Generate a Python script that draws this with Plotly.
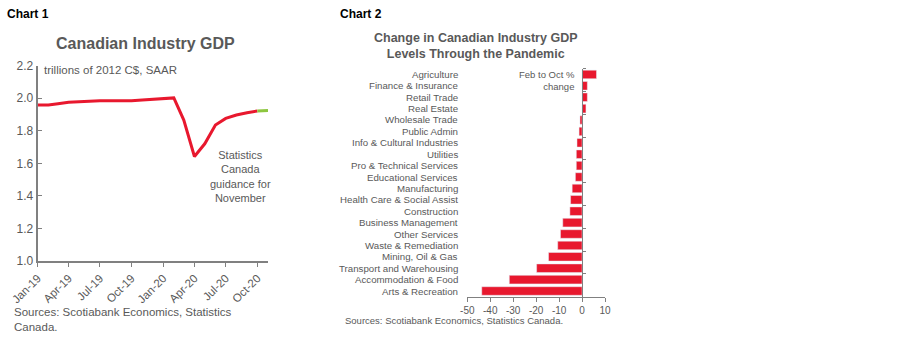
import plotly.graph_objects as go

# ---------------- Chart 1 data ----------------
months = ["2019-01-01", "2019-02-01", "2019-03-01", "2019-04-01", "2019-05-01", "2019-06-01",
          "2019-07-01", "2019-08-01", "2019-09-01", "2019-10-01", "2019-11-01", "2019-12-01",
          "2020-01-01", "2020-02-01", "2020-03-01", "2020-04-01", "2020-05-01", "2020-06-01",
          "2020-07-01", "2020-08-01", "2020-09-01", "2020-10-01"]
gdp = [1.958, 1.958, 1.966, 1.975, 1.978, 1.982, 1.985, 1.985, 1.985, 1.985, 1.990, 1.994,
       1.997, 2.002, 1.866, 1.642, 1.720, 1.835, 1.876, 1.897, 1.911, 1.922]
guide_months = ["2020-10-01", "2020-11-01"]
guide_gdp = [1.922, 1.925]

# ---------------- Chart 2 data ----------------
industries = ["Agriculture", "Finance & Insurance", "Retail Trade", "Real Estate",
              "Wholesale Trade", "Public Admin", "Info & Cultural Industries", "Utilities",
              "Pro & Technical Services", "Educational Services", "Manufacturing",
              "Health Care & Social Assist", "Construction", "Business Management",
              "Other Services", "Waste & Remediation", "Mining, Oil & Gas",
              "Transport and Warehousing", "Accommodation & Food", "Arts & Recreation"]
change = [6.3, 2.3, 2.3, 1.7, -0.9, -1.3, -2.2, -2.5, -2.5, -2.9, -4.3, -5.0, -5.3,
          -8.4, -9.4, -10.6, -14.6, -19.8, -31.7, -43.7]
x2_ticks = [-50, -40, -30, -20, -10, 0, 10]
x2_ticklabels = ["-50", "-40", "-30", "-20", "-10", "0", "10"]

RED = "#E8182E"
GREEN = "#8DC63F"
AX = "#808080"
TXT = "#595959"
FONT = "Liberation Sans, Arial, sans-serif"

W, H = 900, 340
def px(x):
    return x / W
def py(y):
    return (H - y) / H

fig = go.Figure()

fig.add_trace(go.Scatter(x=months, y=gdp, mode="lines", line=dict(color=RED, width=3),
                         xaxis="x", yaxis="y", showlegend=False, hoverinfo="skip"))
fig.add_trace(go.Scatter(x=guide_months, y=guide_gdp, mode="lines", line=dict(color=GREEN, width=3),
                         xaxis="x", yaxis="y", showlegend=False, hoverinfo="skip"))

fig.add_trace(go.Bar(y=industries, x=change, orientation="h", marker=dict(color=RED),
                     xaxis="x2", yaxis="y2", showlegend=False, hoverinfo="skip"))

x2_lo, x2_hi = -50, 10
d2 = [px(467.3), px(605)]
zero_pos = d2[0] + (0 - x2_lo) / (x2_hi - x2_lo) * (d2[1] - d2[0])

fig.update_layout(
    width=W, height=H, margin=dict(l=0, r=0, t=0, b=0, autoexpand=False),
    paper_bgcolor="white", plot_bgcolor="white",
    font=dict(family=FONT, color=TXT, size=12),
    bargap=0.25,
    xaxis=dict(domain=[px(37.7), px(268)], anchor="y", type="date", automargin=False,
               range=["2019-01-01", "2020-11-01"], tick0="2019-01-01", dtick="M3",
               tickformat="%b-%y", tickangle=-45, ticks="outside", ticklen=4,
               tickcolor=AX, showline=True, linecolor=AX, linewidth=2, showgrid=False,
               zeroline=False, tickfont=dict(size=11.5, color=TXT)),
    yaxis=dict(domain=[py(261), py(65.7)], anchor="x", range=[1.0, 2.2], dtick=0.2,
               automargin=False,
               tickformat=".1f", ticks="inside", ticklen=4, tickcolor=AX,
               showline=True, linecolor=AX, linewidth=2, showgrid=False, zeroline=False,
               tickfont=dict(size=12, color=TXT)),
    xaxis2=dict(domain=d2, anchor="y2", range=[x2_lo, x2_hi], automargin=False,
                tickmode="array", tickvals=x2_ticks, ticktext=x2_ticklabels,
                ticks="outside", ticklen=4, tickcolor=AX, showline=True, linecolor=AX,
                linewidth=1, showgrid=False, zeroline=False,
                tickfont=dict(size=10, color=TXT)),
    yaxis2=dict(domain=[py(296.7), py(68.7)], anchor="free", position=zero_pos,
                automargin=False,
                side="right", type="category", categoryarray=industries,
                categoryorder="array", range=[len(industries) - 0.5, -0.5],
                showticklabels=False, ticks="outside", ticklen=3, tickson="boundaries",
                tickcolor=AX, showline=True, linecolor=AX, linewidth=1, showgrid=False,
                zeroline=False),
)

ann = []
ann.append(dict(text="<b>Chart 1</b>", x=px(5), y=py(14), xref="paper", yref="paper",
                xanchor="left", yanchor="middle", showarrow=False,
                font=dict(size=12, color="black", family=FONT)))
ann.append(dict(text="<b>Chart 2</b>", x=px(338), y=py(14), xref="paper", yref="paper",
                xanchor="left", yanchor="middle", showarrow=False,
                font=dict(size=12, color="black", family=FONT)))
ann.append(dict(text="<b>Canadian Industry GDP</b>", x=px(145), y=py(43), xref="paper",
                yref="paper", xanchor="center", yanchor="middle", showarrow=False,
                font=dict(size=16, color=TXT)))
ann.append(dict(text="trillions of 2012 C$, SAAR", x=px(42), y=py(70), xref="paper",
                yref="paper", xanchor="left", yanchor="middle", showarrow=False,
                font=dict(size=11.5, color=TXT)))
ann.append(dict(text="Statistics<br>Canada<br>guidance for<br>November", x=px(240), y=py(177),
                xref="paper", yref="paper", xanchor="center", yanchor="middle",
                showarrow=False, align="center", font=dict(size=11, color=TXT)))
ann.append(dict(text="Sources: Scotiabank Economics, Statistics<br>Canada.", x=px(12), y=py(319),
                xref="paper", yref="paper", xanchor="left", yanchor="middle",
                showarrow=False, align="left", font=dict(size=11.5, color=TXT)))

ann.append(dict(text="<b>Change in Canadian Industry GDP<br>Levels Through the Pandemic</b>",
                x=px(476), y=py(46.5), xref="paper", yref="paper", xanchor="center",
                yanchor="middle", showarrow=False, align="center",
                font=dict(size=12.5, color=TXT)))
ann.append(dict(text="Feb to Oct %<br>change", x=px(577), y=py(80), xref="paper",
                yref="paper", xanchor="right", yanchor="middle", showarrow=False,
                align="right", font=dict(size=9.5, color=TXT)))
ann.append(dict(text="Sources: Scotiabank Economics, Statistics Canada.", x=px(343), y=py(320),
                xref="paper", yref="paper", xanchor="left", yanchor="middle",
                showarrow=False, font=dict(size=9.5, color=TXT)))
for name in industries:
    ann.append(dict(text=name, x=px(460), y=name, xref="paper", yref="y2",
                    xanchor="right", yanchor="middle", showarrow=False,
                    font=dict(size=9.7, color=TXT)))

fig.update_layout(annotations=ann)
fig.write_html("out.html")
